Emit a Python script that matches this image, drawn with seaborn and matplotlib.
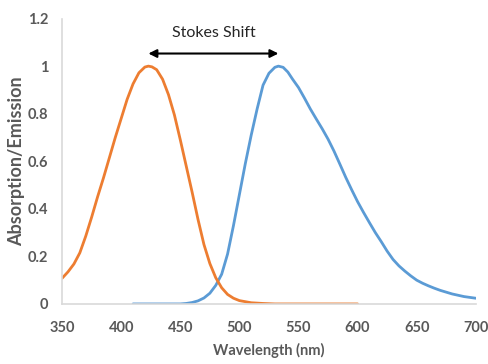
import matplotlib
matplotlib.use("Agg")
import matplotlib.pyplot as plt
import seaborn as sns
import pandas as pd

# Absorption (orange) spectrum
abs_nm = [350, 355, 360, 365, 370, 375, 380, 385, 390, 395, 400, 405, 410, 415,
          420, 423, 426, 430, 435, 440, 445, 450, 455, 460, 465, 470, 475, 480,
          485, 490, 495, 500, 510, 520, 530, 560, 600]
abs_val = [0.108, 0.135, 0.168, 0.215, 0.285, 0.365, 0.45, 0.53, 0.615, 0.70,
           0.78, 0.86, 0.925, 0.972, 0.996, 1.0, 0.997, 0.985, 0.945, 0.88,
           0.795, 0.69, 0.58, 0.47, 0.355, 0.25, 0.17, 0.11, 0.068, 0.04,
           0.024, 0.014, 0.005, 0.002, 0.0, 0.0, 0.0]

# Emission (blue) spectrum
em_nm = [410, 430, 450, 455, 460, 465, 470, 475, 480, 485, 490, 495, 500, 505,
         510, 515, 520, 525, 530, 533, 537, 541, 545, 550, 555, 560, 565, 570,
         575, 580, 585, 590, 595, 600, 605, 610, 615, 620, 625, 630, 635, 640,
         645, 650, 655, 660, 665, 670, 680, 690, 700]
em_val = [0.0, 0.0, 0.0, 0.002, 0.006, 0.013, 0.025, 0.045, 0.078, 0.125, 0.21,
          0.33, 0.46, 0.59, 0.71, 0.82, 0.92, 0.97, 0.995, 1.0, 0.995, 0.975,
          0.945, 0.91, 0.866, 0.82, 0.778, 0.737, 0.693, 0.643, 0.588, 0.532,
          0.48, 0.43, 0.385, 0.342, 0.30, 0.262, 0.222, 0.187, 0.16, 0.138,
          0.118, 0.10, 0.087, 0.076, 0.066, 0.057, 0.042, 0.031, 0.024]

x_ticks = [350, 400, 450, 500, 550, 600, 650, 700]
y_ticks = [0, 0.2, 0.4, 0.6, 0.8, 1.0, 1.2]
y_tick_labels = ["0", "0.2", "0.4", "0.6", "0.8", "1", "1.2"]

# Stokes shift annotation
shift_start = 423
shift_end = 533
shift_level = 1.053
shift_label = "Stokes Shift"

sns.set_theme(style="white")
plt.rcParams["font.family"] = ["Lato", "DejaVu Sans"]

df_abs = pd.DataFrame({"nm": abs_nm, "val": abs_val})
df_em = pd.DataFrame({"nm": em_nm, "val": em_val})

fig = plt.figure(figsize=(4.89, 3.64), dpi=100)
ax = fig.add_axes([0.127, 0.165, 0.846, 0.784])

sns.lineplot(data=df_em, x="nm", y="val", ax=ax, color="#5B9BD5", linewidth=2)
sns.lineplot(data=df_abs, x="nm", y="val", ax=ax, color="#ED7D31", linewidth=2)

ax.set_xlim(350, 700)
ax.set_ylim(0, 1.2)
ax.set_xticks(x_ticks)
ax.set_yticks(y_ticks)
ax.set_yticklabels(y_tick_labels)

grey = "#595959"
ax.tick_params(axis="both", length=0, colors=grey, labelsize=10.5)
ax.tick_params(axis="y", pad=10)
ax.tick_params(axis="x", pad=12)
for lab in ax.get_xticklabels() + ax.get_yticklabels():
    lab.set_fontweight("bold")

for side in ["top", "right"]:
    ax.spines[side].set_visible(False)
for side in ["left", "bottom"]:
    ax.spines[side].set_color("#D9D9D9")
    ax.spines[side].set_linewidth(1.2)

ax.set_xlabel("Wavelength (nm)", fontsize=10.5, fontweight="bold", color=grey)
ax.set_ylabel("Absorption/Emission", fontsize=13, fontweight="bold", color=grey)
ax.xaxis.set_label_coords(0.5, -0.137)
ax.yaxis.set_label_coords(-0.09, 0.5)

ax.annotate("", xy=(shift_start, shift_level), xytext=(shift_end, shift_level),
            arrowprops=dict(arrowstyle="<|-|>", color="black", lw=1.5,
                            mutation_scale=12, shrinkA=0, shrinkB=0),
            annotation_clip=False)
ax.text((shift_start + shift_end) / 2, 1.14, shift_label, ha="center", va="center",
        fontsize=11.5, color="#262626")

fig.savefig("out.png", dpi=100)
